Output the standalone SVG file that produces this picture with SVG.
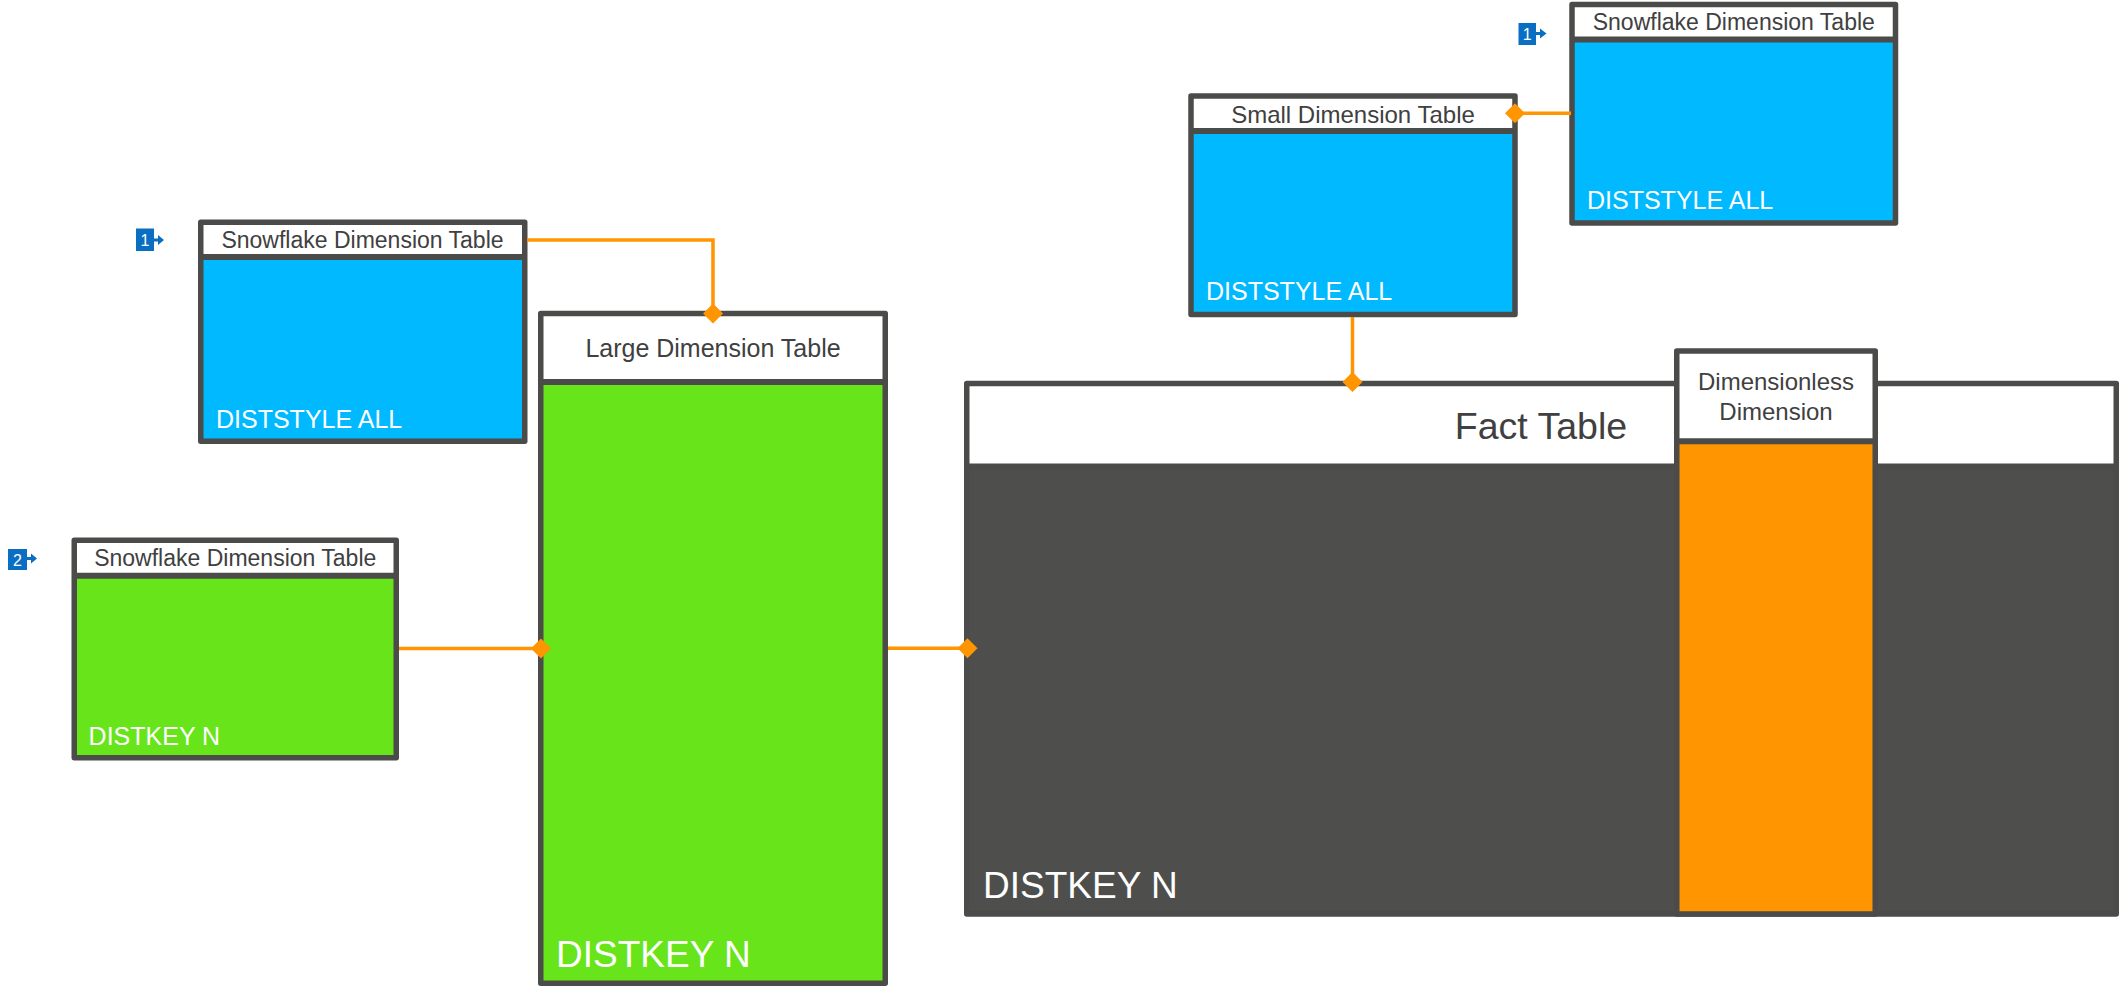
<svg xmlns="http://www.w3.org/2000/svg" width="2120" height="997" viewBox="0 0 2120 997">
<style>
.bd{fill:none;stroke:#4b4b49;stroke-width:5.5;stroke-linejoin:round}
.sep{stroke:#4b4b49;stroke-width:6}
.hdr{fill:#ffffff}
.blue{fill:#00b9ff}
.green{fill:#68e41b}
.dark{fill:#4e4e4c}
.orange{fill:#ff9500}
.ht{font-family:"Liberation Sans",Arial,sans-serif;fill:#404040;text-anchor:middle}
.bt{font-family:"Liberation Sans",Arial,sans-serif;fill:#ffffff}
.conn{fill:none;stroke:#ff9500;stroke-width:3.5}
.badge{fill:#0a6fc2}
.bn{font-family:"Liberation Sans",Arial,sans-serif;fill:#ffffff;font-size:16px;text-anchor:middle}
</style>
<defs>
<marker id="dia" markerUnits="userSpaceOnUse" markerWidth="24" markerHeight="24" viewBox="-12 -12 24 24" refX="0" refY="0" orient="auto">
<path d="M-10,0 L0,-10 L10,0 L0,10 Z" fill="#ff9500"/>
</marker>
</defs>

<g id="fact">
<rect class="dark" x="967" y="383.5" width="1149" height="530"/>
<rect class="hdr" x="967" y="383.5" width="1149" height="83"/>
<line class="sep" x1="967" y1="466.5" x2="2116" y2="466.5"/>
<rect class="bd" x="966.75" y="383.5" width="1149.5" height="530.5"/>
<text class="ht" x="1541" y="438.5" font-size="37.5">Fact Table</text>
<text class="bt" x="983" y="898" font-size="37">DISTKEY N</text>
</g>

<g id="dimensionless">
<rect class="orange" x="1677" y="351" width="198" height="563"/>
<rect class="hdr" x="1677" y="351" width="198" height="90"/>
<line class="sep" x1="1677" y1="441.3" x2="1875" y2="441.3"/>
<rect class="bd" x="1676.75" y="351" width="198.5" height="563"/>
<text class="ht" x="1776" y="390" font-size="24">Dimensionless</text>
<text class="ht" x="1776" y="420" font-size="24">Dimension</text>
</g>

<g id="large-dimension">
<rect class="green" x="540.75" y="313.5" width="344.5" height="669.75"/>
<rect class="hdr" x="540.75" y="313.5" width="344.5" height="68.5"/>
<line class="sep" x1="540.75" y1="382" x2="885.25" y2="382"/>
<rect class="bd" x="540.75" y="313.5" width="344.5" height="669.75"/>
<text class="ht" x="713" y="357" font-size="25">Large Dimension Table</text>
<text class="bt" x="556" y="967" font-size="37">DISTKEY N</text>
</g>

<g id="snowflake-1">
<rect class="blue" x="200.75" y="222.25" width="324" height="219"/>
<rect class="hdr" x="200.75" y="222.25" width="324" height="34.75"/>
<line class="sep" x1="200.75" y1="257" x2="524.75" y2="257"/>
<rect class="bd" x="200.75" y="222.25" width="324" height="219"/>
<text class="ht" x="362.5" y="248" font-size="23">Snowflake Dimension Table</text>
<text class="bt" x="216" y="428" font-size="25">DISTSTYLE ALL</text>
<rect class="badge" x="136" y="228.5" width="18" height="22.5"/>
<text class="bn" x="145" y="245.5">1</text>
<path d="M154,238.5 H158 V235 L164,240 L158,245 V241.5 H154 Z" fill="#0a6fc2"/>
</g>

<g id="snowflake-2">
<rect class="green" x="74.25" y="540.25" width="322" height="217.5"/>
<rect class="hdr" x="74.25" y="540.25" width="322" height="35.5"/>
<line class="sep" x1="74.25" y1="575.7" x2="396.25" y2="575.7"/>
<rect class="bd" x="74.25" y="540.25" width="322" height="217.5"/>
<text class="ht" x="235.25" y="566" font-size="23">Snowflake Dimension Table</text>
<text class="bt" x="88.6" y="745" font-size="25">DISTKEY N</text>
<rect class="badge" x="8" y="549" width="19" height="21"/>
<text class="bn" x="17.5" y="565.5">2</text>
<path d="M27,557 H31 V553.5 L37,558.5 L31,563.5 V560 H27 Z" fill="#0a6fc2"/>
</g>

<g id="small-dimension">
<rect class="blue" x="1191" y="96" width="324" height="218.5"/>
<rect class="hdr" x="1191" y="96" width="324" height="35"/>
<line class="sep" x1="1191" y1="131" x2="1515" y2="131"/>
<rect class="bd" x="1191" y="96" width="324" height="218.5"/>
<text class="ht" x="1353" y="122.7" font-size="24">Small Dimension Table</text>
<text class="bt" x="1206" y="300" font-size="25">DISTSTYLE ALL</text>
</g>

<g id="snowflake-3">
<rect class="blue" x="1572" y="4.5" width="323.5" height="218.5"/>
<rect class="hdr" x="1572" y="4.5" width="323.5" height="35"/>
<line class="sep" x1="1572" y1="39.5" x2="1895.5" y2="39.5"/>
<rect class="bd" x="1572" y="4.5" width="323.5" height="218.5"/>
<text class="ht" x="1733.8" y="30" font-size="23">Snowflake Dimension Table</text>
<text class="bt" x="1587" y="209" font-size="25">DISTSTYLE ALL</text>
<rect class="badge" x="1518.5" y="23" width="17.5" height="22"/>
<text class="bn" x="1527.2" y="40">1</text>
<path d="M1536,32 H1540 V28.5 L1546.5,33.5 L1540,38.5 V35 H1536 Z" fill="#0a6fc2"/>
</g>

<g id="connectors">
<path class="conn" d="M527,240 H713 V313.5" marker-end="url(#dia)"/>
<path class="conn" d="M399,648.5 H541" marker-end="url(#dia)"/>
<path class="conn" d="M888,648.3 H967.5" marker-end="url(#dia)"/>
<path class="conn" d="M1352.5,317 V382" marker-end="url(#dia)"/>
<path class="conn" d="M1571,113.3 H1515" marker-end="url(#dia)"/>
</g>
</svg>
